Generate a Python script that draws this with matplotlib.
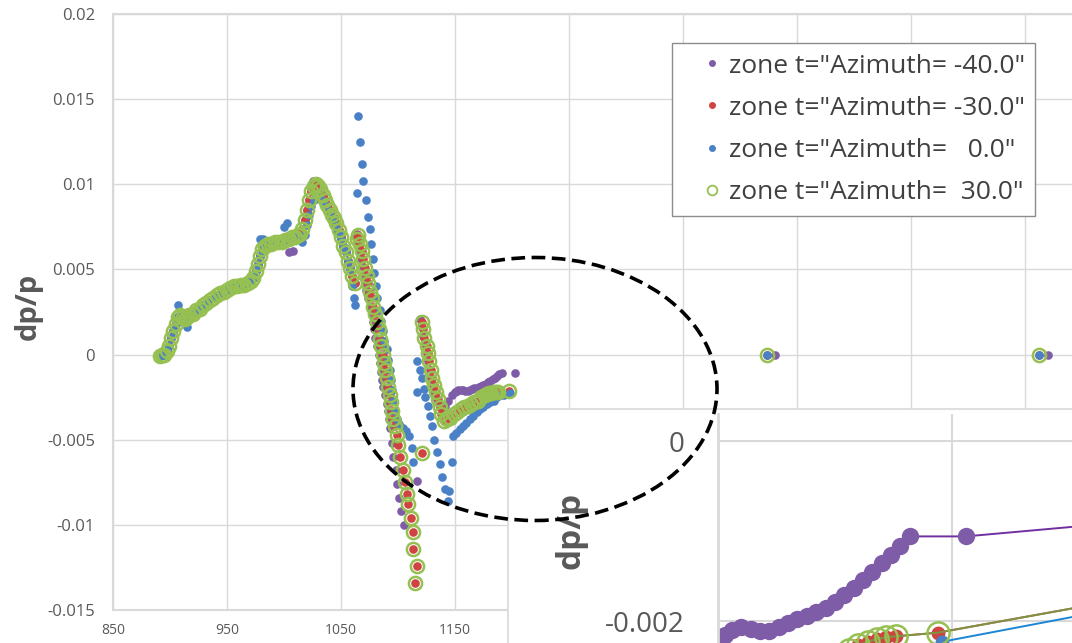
import matplotlib.pyplot as plt
from matplotlib.lines import Line2D
from matplotlib.patches import Ellipse
from matplotlib.ticker import FormatStrFormatter

plt.rcParams['font.family'] = ['Open Sans', 'DejaVu Sans']

# shared part of the curve up to the first peak (all zones lie on it)
rise_x = [891, 893, 895, 897, 899, 901, 903, 905, 907, 909, 911, 913, 915, 917, 920,
          923, 926, 929, 932, 935, 938, 941, 944, 947, 950, 953, 956, 959, 962, 965,
          968, 971, 973, 975, 977, 979, 981, 983, 986, 989, 992, 995, 998, 1001, 1004,
          1007, 1010, 1012]
rise_y = [-0.0001, 0.0, 0.0, 0.0002, 0.0005, 0.0010, 0.0014, 0.0018, 0.0022, 0.0023,
          0.0022, 0.0021, 0.0022, 0.0023, 0.0024, 0.0026, 0.0027, 0.0029, 0.0030, 0.0032,
          0.0033, 0.0035, 0.0036, 0.0037, 0.0038, 0.0039, 0.0040, 0.0040, 0.0041, 0.0041,
          0.0042, 0.0043, 0.0045, 0.0049, 0.0053, 0.0058, 0.0062, 0.0064, 0.0065, 0.0065,
          0.0066, 0.0066, 0.0066, 0.0067, 0.0068, 0.0069, 0.0069, 0.0070]

peak_x = [1014, 1016, 1018, 1020, 1022, 1024, 1026, 1028, 1030]
peak_y = [0.0071, 0.0074, 0.0079, 0.0085, 0.0091, 0.0096, 0.0099, 0.0100, 0.0099]

drop_x = [1032, 1034, 1036, 1038, 1040, 1042, 1044, 1046, 1048, 1050, 1052, 1054, 1056,
          1058, 1060, 1062]
drop_y = [0.0097, 0.0094, 0.0091, 0.0088, 0.0085, 0.0082, 0.0080, 0.0077, 0.0073, 0.0069,
          0.0064, 0.0060, 0.0055, 0.0051, 0.0046, 0.0042]

# -30 and 30 deg zones follow the same tail
tail_x = [1064, 1065, 1067, 1068, 1069, 1071, 1073, 1074, 1075, 1077, 1078, 1080, 1082,
          1083, 1084, 1085, 1087, 1088, 1089, 1090, 1091, 1093, 1094, 1095, 1096, 1097,
          1099, 1100, 1102, 1104, 1106, 1108, 1109, 1111, 1113, 1113, 1117, 1115, 1121,
          1121, 1122, 1123, 1125, 1126, 1127, 1129, 1130, 1132, 1133, 1135, 1137, 1138,
          1140, 1143, 1146, 1149, 1152, 1155, 1158, 1161, 1164, 1167, 1170, 1173, 1176,
          1178, 1180, 1182, 1184, 1186, 1188, 1197, 1424, 1662]
tail_y = [0.0068, 0.0070, 0.0065, 0.0061, 0.0056, 0.0051, 0.0046, 0.0042, 0.0037, 0.0033,
          0.0028, 0.0024, 0.0019, 0.0015, 0.0009, 0.0005, 0.0000, -0.0005, -0.0009, -0.0014,
          -0.0019, -0.0024, -0.0028, -0.0033, -0.0038, -0.0042, -0.0047, -0.0053, -0.0060,
          -0.0068, -0.0075, -0.0082, -0.0088, -0.0096, -0.0104, -0.0114, -0.0124, -0.0134,
          -0.0058, 0.0019, 0.0015, 0.0010, 0.0005, 0.0001, -0.0004, -0.0009, -0.0014,
          -0.0018, -0.0022, -0.0026, -0.0031, -0.0035, -0.0039, -0.0038, -0.0037, -0.0035,
          -0.0034, -0.0032, -0.0031, -0.0030, -0.0029, -0.0028, -0.0027, -0.0025, -0.0024,
          -0.00232, -0.00227, -0.00223, -0.0022, -0.00218, -0.00217, -0.00213, 0.0, 0.0]

purple_extra_x = [1004, 1008, 1025]
purple_extra_y = [0.0060, 0.0061, 0.0102]

purple_tail_x = [1063, 1064, 1065, 1066, 1067, 1068, 1070, 1071, 1072, 1074, 1075, 1077,
                 1078, 1079, 1080, 1082, 1083, 1084, 1085, 1086, 1087, 1089, 1090, 1091,
                 1092, 1093, 1095, 1096, 1098, 1099, 1101, 1103, 1105, 1117, 1119, 1121,
                 1122, 1124, 1125, 1126, 1128, 1129, 1131, 1132, 1134, 1136, 1138, 1141,
                 1144, 1147, 1150, 1151.5, 1153, 1155, 1157, 1159, 1161, 1163, 1165, 1167,
                 1169, 1171, 1173, 1175, 1177, 1179, 1181, 1183, 1185, 1187, 1189, 1191,
                 1203, 1431, 1670]
purple_tail_y = [0.0069, 0.0071, 0.0066, 0.0061, 0.0057, 0.0052, 0.0047, 0.0042, 0.0038,
                 0.0033, 0.0028, 0.0024, 0.0019, 0.0015, 0.0010, 0.0005, 0.0000, -0.0005,
                 -0.0010, -0.0015, -0.0019, -0.0024, -0.0029, -0.0033, -0.0038, -0.0043,
                 -0.0052, -0.0060, -0.0068, -0.0076, -0.0084, -0.0092, -0.0100, -0.0074,
                 0.0021, 0.0016, 0.0011, 0.0006, 0.0001, -0.0004, -0.0009, -0.0014, -0.0018,
                 -0.0022, -0.0026, -0.0029, -0.0031, -0.0030, -0.0027, -0.0024, -0.00222,
                 -0.00216, -0.00210, -0.00207, -0.00209, -0.00211, -0.00211, -0.00207,
                 -0.00202, -0.00198, -0.00194, -0.00190, -0.00185, -0.00179, -0.00171,
                 -0.00163, -0.00154, -0.00145, -0.00136, -0.00127, -0.00117, -0.00106,
                 -0.00106, 0.0, 0.0]

blue_extra_x = [907, 915, 979, 982, 1000, 1003]
blue_extra_y = [0.0029, 0.0016, 0.0068, 0.0068, 0.0075, 0.0077]

blue_x = [1014, 1016, 1018, 1020, 1022, 1024, 1026, 1028, 1030, 1032, 1034, 1036, 1038,
          1040, 1042, 1044, 1046, 1048, 1050, 1052, 1054, 1056, 1058, 1060, 1061, 1062,
          1064, 1065, 1067, 1068, 1069, 1072, 1074, 1075, 1076, 1078, 1079, 1081, 1082,
          1084, 1085, 1087, 1088, 1090, 1091, 1093, 1094, 1095, 1096, 1097, 1099, 1101,
          1104, 1107, 1110, 1112, 1113, 1117, 1117, 1119, 1121, 1123, 1124, 1126, 1128,
          1130, 1132, 1134, 1137, 1139, 1141, 1144, 1145, 1147, 1148, 1151, 1154, 1157,
          1160, 1163, 1166, 1169, 1172, 1175, 1178, 1181, 1184, 1187, 1190, 1193, 1198,
          1424, 1662]
blue_y = [0.0068, 0.0066, 0.0070, 0.0076, 0.0082, 0.0087, 0.0091, 0.0093, 0.0093, 0.0092,
          0.0090, 0.0088, 0.0085, 0.0083, 0.0080, 0.0077, 0.0074, 0.0071, 0.0068, 0.0064,
          0.0060, 0.0055, 0.0050, 0.0040, 0.0033, 0.0029, 0.0095, 0.0140, 0.0125, 0.0112,
          0.0102, 0.0091, 0.0081, 0.0074, 0.0065, 0.0056, 0.0048, 0.0040, 0.0033, 0.0026,
          0.0020, 0.0014, 0.0008, 0.0003, -0.0003, -0.0009, -0.0015, -0.0021, -0.0027,
          -0.0033, -0.0038, -0.0041, -0.0043, -0.0045, -0.0048, -0.0055, -0.0063, -0.0004,
          -0.0022, -0.0009, -0.0014, -0.0020, -0.0025, -0.0030, -0.0036, -0.0042, -0.0050,
          -0.0057, -0.0064, -0.0072, -0.0079, -0.0086, -0.0080, -0.0063, -0.0048, -0.0046,
          -0.0044, -0.0042, -0.0040, -0.0038, -0.0036, -0.0034, -0.0032, -0.0031, -0.0029,
          -0.0028, -0.0027, -0.0025, -0.0024, -0.00235, -0.00223, 0.0, 0.0]

labels = ['zone t="Azimuth= -40.0"', 'zone t="Azimuth= -30.0"',
          'zone t="Azimuth=   0.0"', 'zone t="Azimuth=  30.0"']

# label, x, y, marker colour, line colour (inset), hollow marker?
series = [
    (labels[0], purple_extra_x + rise_x + peak_x + drop_x + purple_tail_x,
     purple_extra_y + rise_y + peak_y + drop_y + purple_tail_y, '#7E5CA8', '#7030A0', False),
    (labels[1], rise_x + peak_x + drop_x + tail_x,
     rise_y + peak_y + drop_y + tail_y, '#CF4440', '#C0504D', False),
    (labels[2], blue_extra_x + rise_x + blue_x,
     blue_extra_y + rise_y + blue_y, '#4A80C6', '#1C86D6', False),
    (labels[3], rise_x + peak_x + drop_x + tail_x,
     rise_y + peak_y + drop_y + tail_y, '#96C051', '#7F9440', True),
]

GRID = '#D9D9D9'
TEXT = '#595959'

fig = plt.figure(figsize=(10.72, 6.43), dpi=100)

# main chart
ax = fig.add_axes([113 / 1072, 1 - 610 / 643, 1026 / 1072, 596 / 643])
for label, xs, ys, c, lc, hollow in series:
    if hollow:
        ax.plot(xs, ys, 'o', ms=9.5, mfc='none', mec=c, mew=1.8, label=label)
    else:
        ax.plot(xs, ys, 'o', ms=6.2, mfc=c, mec=c, mew=0, label=label)

ax.set_xlim(850, 1750)
ax.set_ylim(-0.015, 0.02)
xt = list(range(850, 1751, 100))
ax.set_xticks(xt)
# only the first four labels sit outside the zoom panel
ax.set_xticklabels([str(v) if v <= 1150 else '' for v in xt])
ax.set_yticks([-0.015, -0.01, -0.005, 0, 0.005, 0.01, 0.015, 0.02])
ax.yaxis.set_major_formatter(FormatStrFormatter('%g'))
ax.grid(True, color=GRID, lw=1)
ax.set_axisbelow(True)
ax.tick_params(length=0, colors=TEXT)
ax.tick_params(axis='y', pad=13, labelsize=12)
ax.tick_params(axis='x', pad=9, labelsize=10)
for side in ['left', 'top', 'bottom']:
    ax.spines[side].set_color(GRID)
    ax.spines[side].set_linewidth(1.5)
ax.spines['right'].set_visible(False)
ax.set_ylabel('dp/p', fontsize=21, fontweight='bold', color=TEXT)
ax.yaxis.set_label_coords(-0.068, 0.51)

handles = []
for label, xs, ys, c, lc, hollow in series:
    if hollow:
        handles.append(Line2D([], [], ls='none', marker='o', ms=7, mfc='none', mec=c, mew=1.3))
    else:
        handles.append(Line2D([], [], ls='none', marker='o', ms=5, mfc=c, mec=c, mew=0))
leg = ax.legend(handles, labels, loc='upper left', bbox_to_anchor=(672 / 1072, 1 - 43 / 643),
                bbox_transform=fig.transFigure, fontsize=19, frameon=True, fancybox=False,
                edgecolor='#8C8C8C', framealpha=1, borderaxespad=0, handlelength=2.2,
                handletextpad=-0.45, labelspacing=0.65, borderpad=0.4)
leg.get_frame().set_linewidth(1)
for t in leg.get_texts():
    t.set_color('#404040')

# white panel holding the zoomed view
panel = fig.add_axes([508 / 1072, -0.02, 0.6, 1 - 409 / 643 + 0.02], zorder=2)
panel.set_xticks([])
panel.set_yticks([])
panel.set_facecolor('white')
for s in panel.spines.values():
    s.set_color(GRID)
    s.set_linewidth(1.2)

ins = fig.add_axes([718 / 1072, -23 / 643, 374 / 1072, 252 / 643], zorder=3)
ins.set_facecolor('none')
for label, xs, ys, c, lc, hollow in series:
    if hollow:
        ins.plot(xs, ys, '-o', color=lc, lw=1.4, ms=16, mfc='none', mec=c, mew=1.8)
    else:
        ins.plot(xs, ys, '-o', color=lc, lw=1.4, ms=12.5 if c == '#7E5CA8' else 10,
                 mfc=c, mec=c, mew=0)
ins.set_xlim(1150, 1230)
ins.set_ylim(-0.0025, 0.0003)
ins.set_xticks([1150, 1200])
ins.set_xticklabels([])
ins.set_yticks([-0.002, 0])
ins.set_yticklabels(['-0.002', '0'])
ins.grid(True, color=GRID, lw=1.5)
ins.set_axisbelow(True)
ins.tick_params(length=0, labelsize=20, colors=TEXT, pad=24)
for side in ['top', 'right', 'bottom']:
    ins.spines[side].set_visible(False)
ins.spines['left'].set_color(GRID)
ins.spines['left'].set_linewidth(2)
ins.set_ylabel('dp/p', fontsize=24, fontweight='bold', color=TEXT)
ins.yaxis.set_label_coords(-0.35, 0.536)

# dashed ring around the zoomed region
ring = Ellipse((535 / 1072, 1 - 389 / 643), 364 / 1072, 263 / 643, transform=fig.transFigure,
               fill=False, ec='black', lw=2.6, ls=(0, (3.8, 1.8)), zorder=5)
fig.add_artist(ring)

fig.savefig('out.png', dpi=100)
